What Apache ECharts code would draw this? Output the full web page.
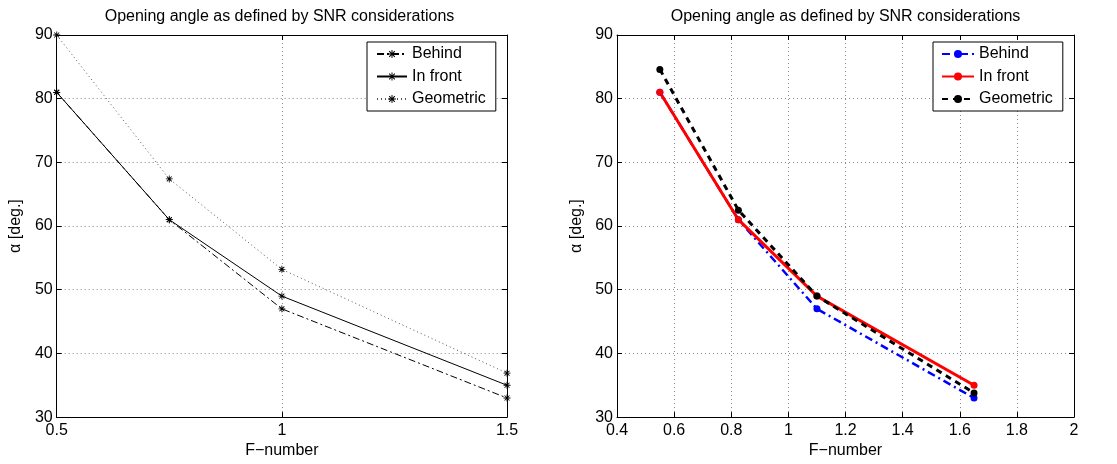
<!DOCTYPE html>
<html>
<head>
<meta charset="utf-8">
<script src="https://cdn.jsdelivr.net/npm/echarts@6/dist/echarts.min.js"></script>
<style>
  body { margin: 0; background: #fff; }
  #left { position: absolute; left: 0; top: 0; width: 558px; height: 464px; }
  #right { position: absolute; left: 558px; top: 0; width: 559px; height: 464px; }
</style>
</head>
<body>
<div id="left"></div>
<div id="right"></div>
<script>
var titleText = 'Opening angle as defined by SNR considerations';
var xName = 'F\u2212number';
var yName = '\u03b1 [deg.]';
var seriesNames = ['Behind', 'In front', 'Geometric'];

// tick labels
var yTicks = [30, 40, 50, 60, 70, 80, 90];
var xTicksLeft = [0.5, 1, 1.5];
var xTicksRight = [0.4, 0.6, 0.8, 1, 1.2, 1.4, 1.6, 1.8, 2];

// left panel
var fLeft = [0.5, 0.75, 1, 1.5];
var behindLeft = [81, 61, 47, 33];
var frontLeft = [81, 61, 49, 35];
var geomLeft = [90, 67.4, 53.2, 36.9];

// right panel
var fRight = [0.55, 0.825, 1.1, 1.65];
var behindRight = [81, 61, 47, 33];
var frontRight = [81, 61, 49, 35];
var geomRight = [84.6, 62.5, 49, 33.8];

var font = 'Liberation Sans, Arial, Helvetica, sans-serif';
// matlab style '*' marker
var star = 'path://M-0.12,-1L0.12,-1L0.12,1L-0.12,1Z' +
    'M-1,-0.12L1,-0.12L1,0.12L-1,0.12Z' +
    'M0.622,0.792L-0.792,-0.622L-0.622,-0.792L0.792,0.622Z' +
    'M0.792,-0.622L-0.622,0.792L-0.792,0.622L0.622,-0.792Z';

function zip(xs, ys) {
    return xs.map(function (x, i) { return [x, ys[i]]; });
}

function step(ticks) {
    return +(ticks[1] - ticks[0]).toFixed(6);
}

function axisPair(ticks, isX) {
    var main = {
        type: 'value',
        min: ticks[0],
        max: ticks[ticks.length - 1],
        interval: step(ticks),
        axisLine: { show: true, onZero: false, lineStyle: { color: '#000', width: 1 } },
        axisTick: { show: true, inside: true, length: 5, lineStyle: { color: '#000' } },
        axisLabel: { color: '#000', fontSize: 16, fontFamily: font, margin: isX ? 5 : 4 },
        splitLine: { show: true, lineStyle: { color: '#888', type: [1, 3], width: 1 } },
        name: isX ? xName : yName,
        nameLocation: 'middle',
        nameGap: isX ? 22 : 29,
        nameTextStyle: { color: '#000', fontSize: 16, fontFamily: font }
    };
    var other = {
        type: 'value',
        position: isX ? 'top' : 'right',
        min: ticks[0],
        max: ticks[ticks.length - 1],
        interval: step(ticks),
        axisLine: { show: true, onZero: false, lineStyle: { color: '#000', width: 1 } },
        axisTick: { show: true, inside: true, length: 5, lineStyle: { color: '#000' } },
        axisLabel: { show: false },
        splitLine: { show: false }
    };
    return [main, other];
}

function buildOption(cfg) {
    return {
        animation: false,
        graphic: [{
            type: 'text',
            x: cfg.titleX,
            y: 17,
            style: {
                text: titleText,
                font: '16px ' + font,
                fill: '#000',
                textAlign: 'center',
                textVerticalAlign: 'middle'
            }
        }],
        legend: {
            orient: 'vertical',
            left: cfg.legendLeft,
            top: 42,
            data: seriesNames,
            backgroundColor: '#fff',
            borderColor: '#000',
            borderWidth: 1,
            borderRadius: 0,
            padding: [4, 10, 4, cfg.legendPadLeft],
            itemWidth: cfg.legendItemWidth,
            itemHeight: 10,
            itemGap: 6.5,
            selectedMode: false,
            textStyle: { color: '#000', fontSize: 16, fontFamily: font }
        },
        grid: cfg.grid,
        xAxis: axisPair(cfg.xTicks, true),
        yAxis: axisPair(yTicks, false),
        series: cfg.series
    };
}

var leftSeries = [
    {
        name: seriesNames[0], type: 'line', data: zip(fLeft, behindLeft),
        symbol: star, symbolSize: 7, color: '#000',
        lineStyle: { color: '#000', width: 1, type: [7, 3, 2, 3] }
    },
    {
        name: seriesNames[1], type: 'line', data: zip(fLeft, frontLeft),
        symbol: star, symbolSize: 7, color: '#000',
        lineStyle: { color: '#000', width: 1, type: 'solid' }
    },
    {
        name: seriesNames[2], type: 'line', data: zip(fLeft, geomLeft),
        symbol: star, symbolSize: 7, color: '#000',
        lineStyle: { color: '#555', width: 1, type: [1, 3] }
    }
];

var rightSeries = [
    {
        name: seriesNames[0], type: 'line', data: zip(fRight, behindRight),
        symbol: 'circle', symbolSize: 7, color: '#0000ff',
        lineStyle: { color: '#0000ff', width: 2.5, type: [8, 4, 2, 4] }
    },
    {
        name: seriesNames[1], type: 'line', data: zip(fRight, frontRight),
        symbol: 'circle', symbolSize: 7, color: '#ff0000',
        lineStyle: { color: '#ff0000', width: 3, type: 'solid' }
    },
    {
        name: seriesNames[2], type: 'line', data: zip(fRight, geomRight),
        symbol: 'circle', symbolSize: 7, color: '#000',
        lineStyle: { color: '#000', width: 3, type: [6, 5] }
    }
];

var leftChart = echarts.init(document.getElementById('left'));
leftChart.setOption(buildOption({
    titleX: 279.5,
    legendLeft: 367,
    legendPadLeft: 9,
    legendItemWidth: 30,
    grid: { left: 52, right: 51, top: 35, bottom: 43 },
    xTicks: xTicksLeft,
    series: leftSeries
}));

var rightChart = echarts.init(document.getElementById('right'));
rightChart.setOption(buildOption({
    titleX: 287.5,
    legendLeft: 375,
    legendPadLeft: 8,
    legendItemWidth: 32,
    grid: { left: 59, right: 43, top: 35, bottom: 43 },
    xTicks: xTicksRight,
    series: rightSeries
}));
</script>
</body>
</html>
